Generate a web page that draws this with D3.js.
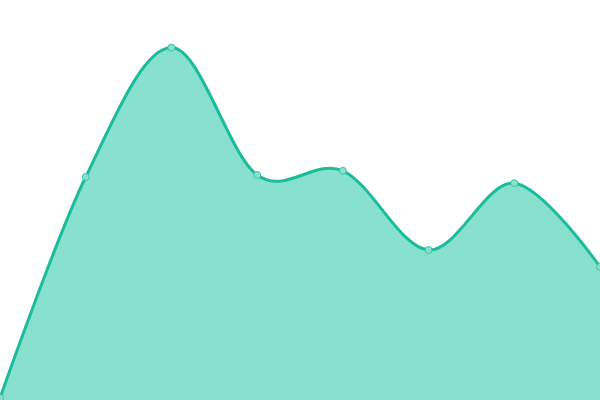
<!DOCTYPE html>
<html>
<head>
<meta charset="utf-8">
<script src="https://cdn.jsdelivr.net/npm/d3@7"></script>
<style>
  html, body { margin: 0; padding: 0; background: #fff; }
  svg { display: block; }
</style>
</head>
<body>
<div id="chart"></div>
<script>
(function(d3) {
    var w = 600, h = 400;

    // one point per slot, evenly spaced
    var categories = [1, 2, 3, 4, 5, 6, 7, 8];
    var values = [0.5, 55.75, 88.1, 56.25, 57.3, 37.5, 54.2, 33.3];

    var x = d3.scalePoint()
        .domain(categories)
        .range([0, w]);

    var y = d3.scaleLinear()
        .domain([0, 100])
        .range([h, 0]);

    var data = categories.map(function(c, i) {
        return { c: c, v: values[i] };
    });

    var svg = d3.select('#chart')
        .append('svg')
        .attr('width', w)
        .attr('height', h);

    var area = d3.area()
        .curve(d3.curveCardinal)
        .x(function(d) { return x(d.c); })
        .y0(h)
        .y1(function(d) { return y(d.v); });

    var line = d3.line()
        .curve(d3.curveCardinal)
        .x(function(d) { return x(d.c); })
        .y(function(d) { return y(d.v); });

    svg.append('path')
        .datum(data)
        .attr('d', area)
        .attr('fill', '#88e0cf');

    svg.append('path')
        .datum(data)
        .attr('d', line)
        .attr('fill', 'none')
        .attr('stroke', '#1abc9c')
        .attr('stroke-width', 3);

    svg.selectAll('circle')
        .data(data)
        .enter()
        .append('circle')
        .attr('cx', function(d) { return x(d.c); })
        .attr('cy', function(d) { return y(d.v); })
        .attr('r', 3.5)
        .attr('fill', '#88e0cf')
        .attr('stroke', '#3cc6aa')
        .attr('stroke-width', 1);
}(window.d3));
</script>
</body>
</html>
